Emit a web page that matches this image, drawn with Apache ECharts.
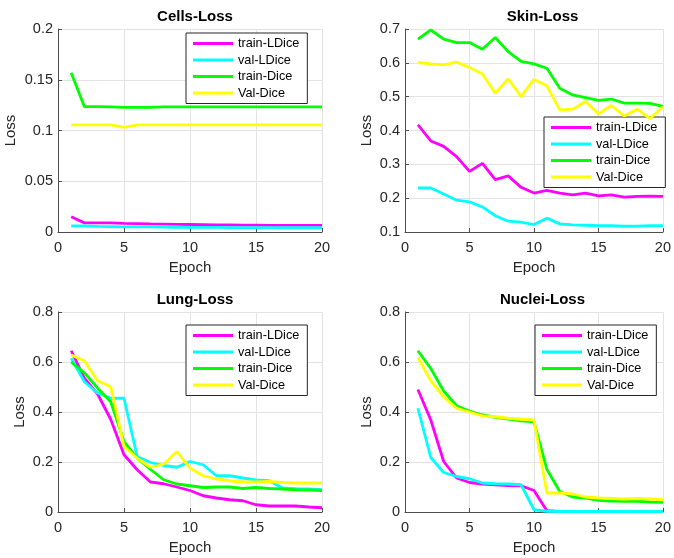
<!DOCTYPE html>
<html>
<head>
<meta charset="utf-8">
<script src="https://cdn.jsdelivr.net/npm/echarts@6/dist/echarts.min.js"></script>
<style>html,body{margin:0;padding:0;background:#fff}#c{width:674px;height:558px}</style>
</head>
<body>
<div id="c"></div>
<script>
var epochs = [1,2,3,4,5,6,7,8,9,10,11,12,13,14,15,16,17,18,19,20];
var seriesNames = ['train-LDice','val-LDice','train-Dice','Val-Dice'];
var seriesColors = ['#ff00ff','#00ffff','#00ff00','#ffff00'];
var panelTitles = ['Cells-Loss','Skin-Loss','Lung-Loss','Nuclei-Loss'];
var xTicks = [0,5,10,15,20];

// Cells
var cellsTrainLDice = [0.015,0.009,0.009,0.009,0.0085,0.0083,0.008,0.0078,0.0076,0.0074,0.0072,0.007,0.0069,0.0068,0.0067,0.0066,0.0066,0.0065,0.0065,0.0065];
var cellsValLDice   = [0.006,0.006,0.0055,0.0053,0.005,0.005,0.005,0.0048,0.0047,0.0046,0.0045,0.0045,0.0044,0.0044,0.0043,0.0043,0.0042,0.0042,0.0042,0.0042];
var cellsTrainDice  = [0.157,0.1235,0.1235,0.1233,0.1228,0.1228,0.1228,0.1232,0.1232,0.1233,0.1232,0.1232,0.1233,0.1233,0.1233,0.1233,0.1233,0.1233,0.1233,0.1233];
var cellsValDice    = [0.1055,0.1055,0.1055,0.1055,0.103,0.1055,0.1055,0.1055,0.1055,0.1055,0.1055,0.1055,0.1055,0.1055,0.1055,0.1055,0.1055,0.1055,0.1055,0.1055];

// Skin
var skinTrainLDice = [0.417,0.369,0.353,0.323,0.279,0.303,0.255,0.266,0.232,0.215,0.223,0.215,0.210,0.215,0.207,0.210,0.203,0.205,0.206,0.205];
var skinValLDice   = [0.230,0.230,0.212,0.194,0.189,0.174,0.148,0.132,0.129,0.122,0.141,0.124,0.121,0.120,0.119,0.119,0.117,0.117,0.119,0.119];
var skinTrainDice  = [0.670,0.697,0.670,0.660,0.660,0.640,0.675,0.633,0.604,0.597,0.584,0.525,0.505,0.497,0.489,0.493,0.481,0.481,0.480,0.471];
var skinValDice    = [0.601,0.597,0.594,0.602,0.586,0.567,0.510,0.553,0.500,0.551,0.532,0.461,0.463,0.486,0.449,0.474,0.443,0.463,0.435,0.471];

// Lung
var lungTrainLDice = [0.645,0.535,0.472,0.370,0.229,0.169,0.120,0.113,0.100,0.086,0.065,0.056,0.049,0.045,0.029,0.024,0.024,0.024,0.020,0.017];
var lungValLDice   = [0.615,0.521,0.476,0.455,0.455,0.222,0.198,0.186,0.179,0.202,0.189,0.145,0.145,0.136,0.128,0.125,0.096,0.093,0.092,0.089];
var lungTrainDice  = [0.600,0.557,0.496,0.440,0.282,0.215,0.171,0.129,0.112,0.105,0.098,0.100,0.100,0.094,0.098,0.094,0.092,0.089,0.088,0.086];
var lungValDice    = [0.628,0.605,0.525,0.501,0.262,0.215,0.179,0.191,0.242,0.175,0.145,0.132,0.125,0.120,0.120,0.122,0.118,0.116,0.116,0.116];

// Nuclei
var nucTrainLDice = [0.490,0.368,0.202,0.136,0.118,0.112,0.109,0.106,0.105,0.086,0.005,0.002,0.002,0.002,0.002,0.002,0.002,0.002,0.002,0.002];
var nucValLDice   = [0.415,0.218,0.158,0.142,0.133,0.116,0.113,0.112,0.109,0.009,0.003,0.002,0.002,0.002,0.002,0.002,0.002,0.002,0.002,0.002];
var nucTrainDice  = [0.645,0.574,0.484,0.425,0.404,0.388,0.379,0.372,0.365,0.361,0.171,0.082,0.060,0.056,0.047,0.044,0.043,0.043,0.040,0.039];
var nucValDice    = [0.618,0.525,0.461,0.415,0.400,0.384,0.381,0.375,0.371,0.368,0.076,0.076,0.072,0.060,0.056,0.054,0.052,0.054,0.052,0.049];

var yMin = [0, 0.1, 0, 0];
var yMax = [0.2, 0.7, 0.8, 0.8];
var yStep = [0.05, 0.1, 0.2, 0.2];

var panelData = [
  [cellsTrainLDice, cellsValLDice, cellsTrainDice, cellsValDice],
  [skinTrainLDice, skinValLDice, skinTrainDice, skinValDice],
  [lungTrainLDice, lungValLDice, lungTrainDice, lungValDice],
  [nucTrainLDice, nucValLDice, nucTrainDice, nucValDice]
];

var grids = [
  {left: 58, top: 29, width: 264, height: 203},
  {left: 405, top: 29, width: 265, height: 203},
  {left: 58, top: 312, width: 264, height: 200},
  {left: 405, top: 312, width: 265, height: 200}
];
var legendPos = [
  {left: 186, top: 33},
  {left: 544, top: 117},
  {left: 186, top: 325},
  {left: 535, top: 325}
];
var yNameGap = [40, 31, 31, 31];

var FONT = '"Liberation Sans", Arial, Helvetica, sans-serif';
var axisColor = '#4d4d4d';
var gridColor = '#e3e3e3';

var option = {
  animation: false,
  backgroundColor: '#ffffff',
  textStyle: {fontFamily: FONT},
  title: [], grid: [], xAxis: [], yAxis: [], legend: [], series: []
};

for (var p = 0; p < 4; p++) {
  var g = grids[p];
  option.grid.push({left: g.left, top: g.top, width: g.width, height: g.height, containLabel: false});
  option.title.push({
    text: panelTitles[p],
    left: g.left + g.width / 2,
    top: g.top - 25,
    textAlign: 'center',
    textStyle: {fontFamily: FONT, fontSize: 15, fontWeight: 'bold', color: '#000'}
  });
  option.xAxis.push({
    type: 'value', gridIndex: p, min: xTicks[0], max: xTicks[xTicks.length - 1], interval: xTicks[1] - xTicks[0],
    name: 'Epoch', nameLocation: 'middle', nameGap: 28,
    nameTextStyle: {fontFamily: FONT, fontSize: 15, color: '#262626'},
    axisLine: {show: true, onZero: false, lineStyle: {color: axisColor, width: 1}},
    axisTick: {show: true, inside: true, length: 4, lineStyle: {color: axisColor}},
    axisLabel: {fontFamily: FONT, fontSize: 14.5, color: '#262626', margin: 8},
    splitLine: {show: true, lineStyle: {color: gridColor, width: 1}}
  });
  option.yAxis.push({
    type: 'value', gridIndex: p, min: yMin[p], max: yMax[p], interval: yStep[p],
    name: 'Loss', nameLocation: 'middle', nameGap: yNameGap[p],
    nameTextStyle: {fontFamily: FONT, fontSize: 15, color: '#262626'},
    axisLine: {show: true, onZero: false, lineStyle: {color: axisColor, width: 1}},
    axisTick: {show: true, inside: true, length: 4, lineStyle: {color: axisColor}},
    axisLabel: {fontFamily: FONT, fontSize: 14.5, color: '#262626', margin: 5},
    splitLine: {show: true, lineStyle: {color: gridColor, width: 1}}
  });
  option.legend.push({
    data: seriesNames.slice(),
    orient: 'vertical',
    left: legendPos[p].left, top: legendPos[p].top,
    icon: 'rect', itemWidth: 40, itemHeight: 3, itemGap: 3.5,
    padding: [4, 8, 4, 7],
    backgroundColor: '#ffffff', borderColor: '#262626', borderWidth: 1,
    textStyle: {fontFamily: FONT, fontSize: 12.7, color: '#000'},
    selectedMode: false
  });
  for (var s = 0; s < 4; s++) {
    var vals = panelData[p][s];
    option.series.push({
      name: seriesNames[s], type: 'line', xAxisIndex: p, yAxisIndex: p,
      data: epochs.map(function (e, i) { return [e, vals[i]]; }),
      showSymbol: false, symbol: 'none',
      lineStyle: {color: seriesColors[s], width: 2.8},
      itemStyle: {color: seriesColors[s]},
      z: 2 + s
    });
  }
}

var chart = echarts.init(document.getElementById('c'), null, {renderer: 'canvas'});
chart.setOption(option);
</script>
</body>
</html>
